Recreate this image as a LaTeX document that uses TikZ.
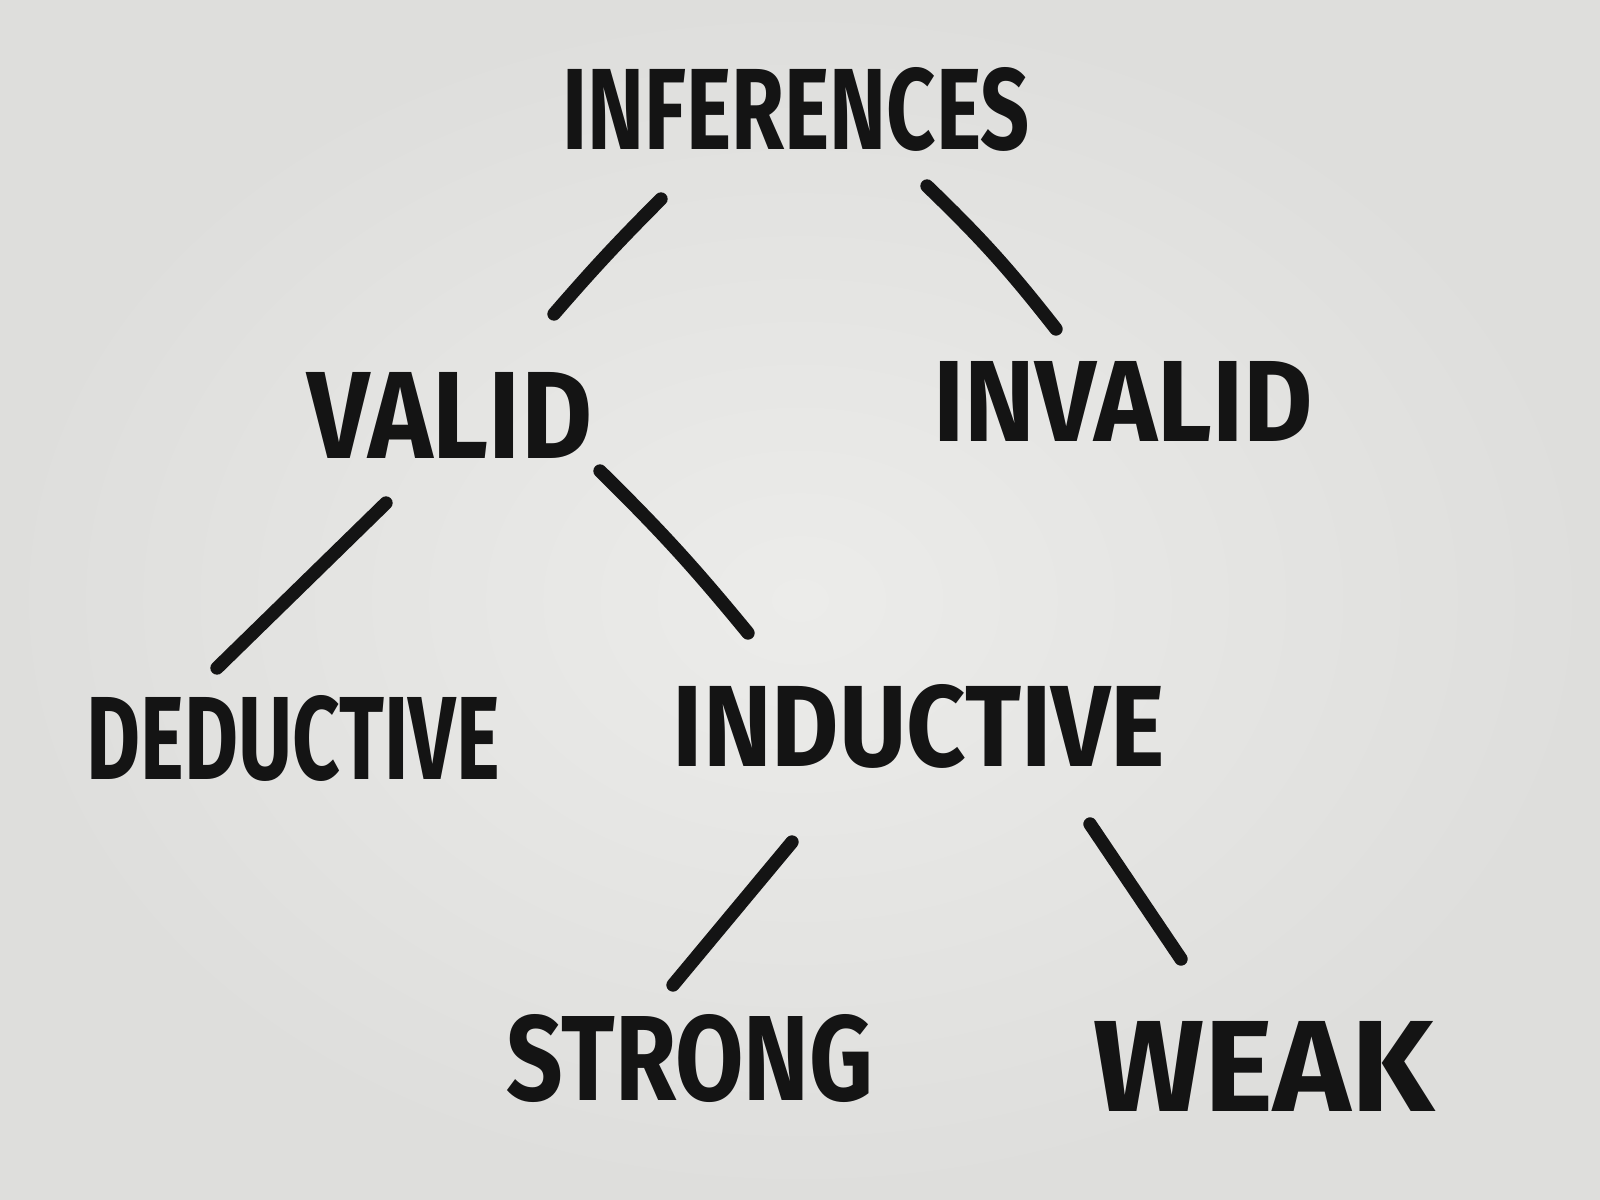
\documentclass[tikz,border=0pt]{standalone}
\usepackage{fontspec}
\setmainfont{Fira Sans}
\usepackage{graphicx}
\definecolor{paper}{HTML}{ECECEA}
\definecolor{paperedge}{HTML}{DEDEDC}
\definecolor{ink}{HTML}{141414}
\begin{document}
\begin{tikzpicture}[x=0.01cm,y=-0.01cm,
  word/.style={inner sep=0pt,outer sep=0pt,text=ink,font=\bfseries},
  branch/.style={draw=ink,line width=3.8pt,line cap=round}]
\shade[inner color=paper,outer color=paperedge] (0,0) rectangle (1600,1200);
\useasboundingbox (0,0) rectangle (1600,1200);
\node[word] (inf) at (796,109) {\resizebox{4.67cm}{0.82cm}{INFERENCES}};
\node[word] (valid) at (450,415) {\resizebox{2.84cm}{0.86cm}{VALID}};
\node[word] (invalid) at (1123,401) {\resizebox{3.79cm}{0.80cm}{INVALID}};
\node[word] (ded) at (293,738) {\resizebox{4.13cm}{0.84cm}{DEDUCTIVE}};
\node[word] (ind) at (919,726) {\resizebox{4.92cm}{0.82cm}{INDUCTIVE}};
\node[word] (strong) at (690,1058) {\resizebox{3.66cm}{0.86cm}{STRONG}};
\node[word] (weak) at (1264,1066) {\resizebox{3.40cm}{0.90cm}{WEAK}};
\draw[branch] ([shift={(-135,90)}]inf.center) to[bend right=2] ([shift={(104,-101)}]valid.center);
\draw[branch] ([shift={(131,77)}]inf.center) to[bend left=4] ([shift={(-67,-72)}]invalid.center);
\draw[branch] ([shift={(-64,88)}]valid.center) -- ([shift={(-76,-70)}]ded.center);
\draw[branch] ([shift={(150,56)}]valid.center) to[bend left=3] ([shift={(-171,-93)}]ind.center);
\draw[branch] ([shift={(-127,116)}]ind.center) -- ([shift={(-17,-73)}]strong.center);
\draw[branch] ([shift={(171,98)}]ind.center) -- ([shift={(-83,-107)}]weak.center);
\end{tikzpicture}
\end{document}
